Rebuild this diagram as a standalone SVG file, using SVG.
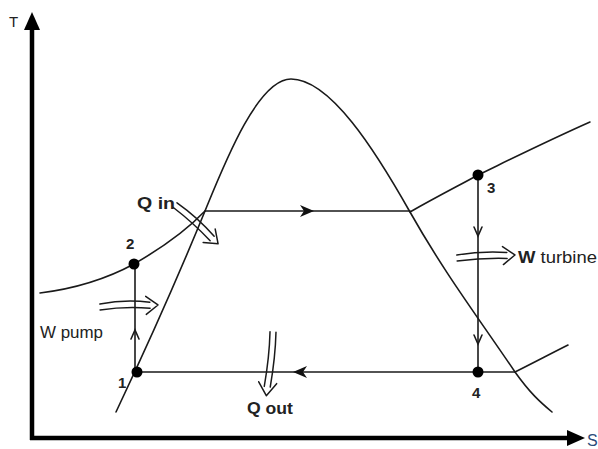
<svg xmlns="http://www.w3.org/2000/svg" width="598" height="449" viewBox="0 0 598 449">
<style>
.ln{fill:none;stroke:#1a1a1a;stroke-width:1.6;stroke-linecap:round}
.ax{fill:none;stroke:#000;stroke-width:4.5}
.dbl{fill:none;stroke:#1a1a1a;stroke-width:1.5;stroke-linecap:round;stroke-linejoin:round}
.dot{fill:#000}
.lbl{font-family:"Liberation Sans",Arial,sans-serif;font-size:17px;fill:#222}
.num{font-family:"Liberation Sans",Arial,sans-serif;font-size:15px;font-weight:bold;fill:#222}
.bl{font-family:"Liberation Sans",Arial,sans-serif;font-size:17px;font-weight:bold;fill:#222}
</style>
<rect width="598" height="449" fill="#fff"/>
<g id="axes">
<line class="ax" x1="32" y1="440" x2="32" y2="26"/>
<polygon points="32,12 24,30 40,30" fill="#000"/>
<line class="ax" x1="30" y1="438" x2="570" y2="438"/>
<polygon points="585,438 567,430 567,446" fill="#000"/>
<text x="9" y="27" class="lbl" style="font-size:15px">T</text>
<text x="587" y="446" class="lbl" style="font-size:16px;fill:#2a4a7a">S</text>
</g>
<g id="connectors">
<path id="dome" class="ln" d="M116,412 C150,340 185,260 205,211 C225,162 258,79 291,79 C330,79 375,150 410,212 C445,274 480,320 515,372 C530,393 540,402 552,412"/>
<path id="subcooled" class="ln" d="M40,293 C80,288 110,277 134,264 C160,249 185,232 205,211"/>
<path id="superheated" class="ln" d="M410,212 C440,195 460,185 478,175 C505,162 545,142 590,122"/>
<path id="lowp" class="ln" d="M515,372 C535,362 552,353 568,345"/>
<line class="ln" x1="205" y1="211" x2="410" y2="211"/>
<line class="ln" x1="137" y1="372" x2="515" y2="372"/>
<line class="ln" x1="135" y1="372" x2="135" y2="264"/>
<line class="ln" x1="478" y1="175" x2="478" y2="372"/>
<polygon points="314,211 300,205 304,211 300,217" fill="#111"/>
<polygon points="293,372 307,366 303,372 307,378" fill="#111"/>
<path class="ln" d="M131,339 L135,330 L139,339"/>
<path class="ln" d="M474,227 L478,236 L482,227" stroke="#223"/>
<path class="ln" d="M474,335 L478,344 L482,335" stroke="#223"/>
</g>
<g id="p1"><circle class="dot" cx="137" cy="372" r="5.5"/><text x="118" y="388" class="num">1</text></g>
<g id="p2"><circle class="dot" cx="134" cy="264" r="5.5"/><text x="126" y="249" class="num">2</text></g>
<g id="p3"><circle class="dot" cx="478" cy="175" r="5.5"/><text x="487" y="193" class="num">3</text></g>
<g id="p4"><circle class="dot" cx="478" cy="372" r="5.5"/><text x="472" y="398" class="num">4</text></g>
<g id="qin">
<path class="dbl" transform="translate(175,205) rotate(42)" d="M0,-3 Q25,-6 50,-3 M0,3 Q25,1 50,3 M46,-9 L58,0 L46,9"/>
<text x="137" y="209" class="bl" textLength="38" lengthAdjust="spacingAndGlyphs">Q in</text>
</g>
<g id="wpump">
<path class="dbl" transform="translate(100,307) rotate(-2)" d="M0,-3 Q25,-7 50,-3 M0,3 Q25,0 50,3 M46,-9 L58,0 L46,9"/>
<text x="40" y="338" class="lbl" textLength="63" lengthAdjust="spacingAndGlyphs">W pump</text>
</g>
<g id="qout">
<path class="dbl" transform="translate(273,332) rotate(96)" d="M0,-3 Q25,-5 55,-3 M0,3 Q25,1 55,3 M51,-9 L64,0 L51,9"/>
<text x="247" y="414" class="bl" textLength="46" lengthAdjust="spacingAndGlyphs">Q out</text>
</g>
<g id="wturb">
<path class="dbl" transform="translate(457,258) rotate(-3)" d="M0,-3 Q25,-6 50,-3 M0,3 Q25,1 50,3 M46,-9 L58,0 L46,9"/>
<text x="518" y="263" class="lbl" textLength="79" lengthAdjust="spacingAndGlyphs"><tspan font-weight="bold">W</tspan> turbine</text>
</g>
</svg>
